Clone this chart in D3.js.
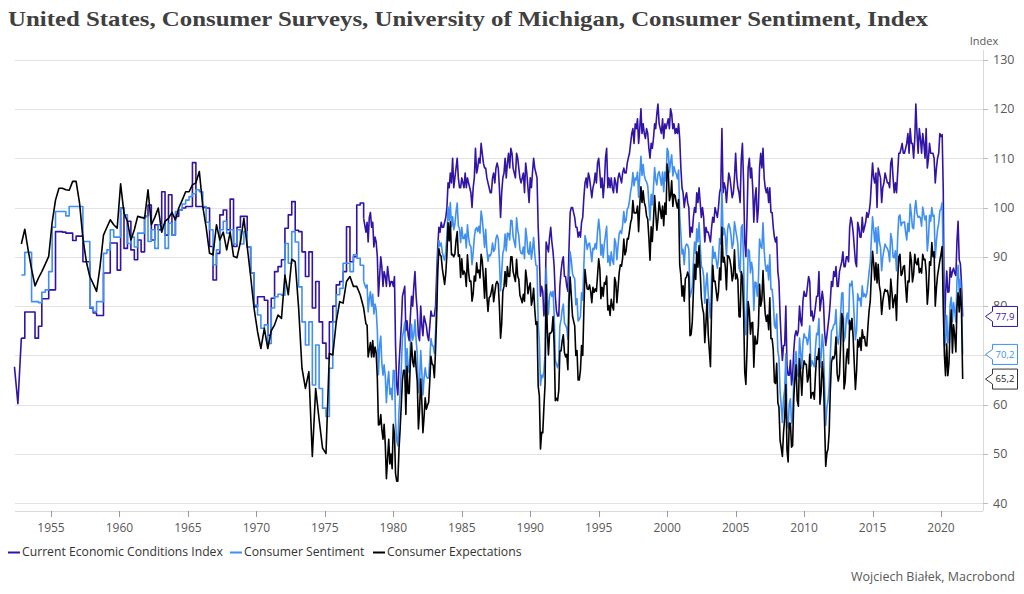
<!DOCTYPE html>
<html><head><meta charset="utf-8">
<script src="https://cdnjs.cloudflare.com/ajax/libs/d3/7.8.5/d3.min.js"></script>
<style>body{margin:0;background:#fff;} svg{display:block;}</style>
</head><body>
<svg id="chart" width="1024" height="594"></svg>
<script>
// ---------- DATA ----------
const titleText = "United States, Consumer Surveys, University of Michigan, Consumer Sentiment, Index";
const unitText = "Index";
const sourceText = "Wojciech Białek, Macrobond";
const seriesNames = ["Current Economic Conditions Index", "Consumer Sentiment", "Consumer Expectations"];
const yTickValues = [40, 50, 60, 70, 80, 90, 100, 110, 120, 130];
const xTickYears = [1955, 1960, 1965, 1970, 1975, 1980, 1985, 1990, 1995, 2000, 2005, 2010, 2015, 2020];

// quarterly survey readings, May 1952 .. Nov 1977 (every 3 months)
const earlyStart = [1952, 4];
const iccEarly = [67.7, 60.2, 73.5,
 78.8, 78.8, 78.8, 73.5,  75.9, 81.5, 81.5, 83.3,  83.3, 95.1, 95.1, 95.0,  94.8, 94.8, 93.3, 94.2,
 94.2, 89.0, 89.0, 79.6,  78.6, 78.1, 78.1, 86.7,  86.7, 92.8, 92.8, 87.3,  99.9, 91.7, 97.2, 91.4,
 89.4, 93.4, 91.0, 98.2,  100.5, 93.4, 96.5, 95.5,  103.2, 94.4, 102.6, 94.4,  98.2, 99.5, 99.9, 100.2,
 100.2, 109.1, 100.2, 100.2,  100.0, 99.9, 92.1, 85.3,  90.7, 98.5, 99.5, 95.5,  101.7, 92.1, 96.0, 98.2,
 98.2, 92.0, 86.7, 79.9,  81.9, 81.9, 81.2, 74.1,  81.6, 87.0, 88.0, 89.4,  95.8, 98.5, 101.2, 95.4,
 95.1, 91.0, 86.0, 91.0,  79.6, 85.0, 76.8, 72.5,  69.4, 76.8, 80.0, 84.3,  85.0, 87.0, 96.1, 89.0,
 90.0, 100.5, 100.9, 97.8];
const icsEarly = [null, null, 86.3,
 90.9, 90.9, 80.9, 80.9,  80.7, 82.8, 83.3, 87.0,  96.0, 99.2, 99.2, 99.2,  98.3, 100.2, 100.2, 100.2,
 100.2, 93.1, 93.1, 79.8,  78.9, 80.9, 80.9, 90.7,  91.4, 95.5, 94.0, 94.0,  99.9, 98.5, 92.7, 94.0,
 92.0, 94.8, 94.8, 98.2,  93.1, 95.5, 91.7, 96.5,  96.5, 91.7, 96.8, 94.4,  99.2, 99.5, 100.7, 101.5,
 102.2, 102.8, 103.6, 103.2,  100.2, 97.0, 95.5, 88.4,  91.4, 95.5, 97.2, 94.8,  95.5, 92.6, 95.5, 92.6,
 95.1, 92.0, 86.7, 80.2,  78.2, 75.5, 76.2, 72.4,  79.6, 81.9, 82.4, 82.2,  92.7, 88.7, 95.1, 93.0,
 83.9, 76.8, 72.1, 76.8,  64.0, 72.1, 63.3, 59.3,  57.6, 67.4, 76.8, 82.3,  83.6, 88.7, 88.7, 87.0,
 90.4, 89.7, 88.3, 85.0];
const iceEarly = [null, null, 92.6,
 95.6, 91.4, 87.5, 84.1,  85.7, 87.0, 88.5, 90.1,  97.0, 101.5, 103.9, 103.9,  103.6, 103.5, 105.3, 105.3,
 100.9, 93.8, 89.0, 86.0,  84.5, 83.0, 88.0, 94.4,  96.0, 97.5, 96.5, 95.8,  104.8, 98.8, 97.2, 93.4,
 95.5, 98.2, 98.0, 97.8,  103.6, 96.5, 98.0, 99.9,  95.0, 97.2, 97.8, 99.0,  97.5, 99.9, 101.5, 103.2,
 103.2, 104.6, 105.0, 107.3,  100.2, 96.0, 90.7, 90.4,  96.5, 93.4, 95.0, 91.4,  95.0, 90.1, 89.8, 93.0,
 97.8, 92.1, 86.0, 79.5,  74.8, 71.4, 75.5, 71.4,  75.0, 76.2, 78.2, 77.5,  86.3, 82.3, 89.5, 89.0,
 79.6, 67.4, 63.3, 66.7,  49.5, 63.3, 57.0, 51.2,  50.1, 70.4, 70.1, 76.8,  80.9, 80.6, 85.0, 86.0,
 84.0, 84.0, 82.3, 79.6];

// monthly readings, Jan 1978 .. Aug 2021
const lateStart = [1978, 0];
const iccLate = [
 95,97,93,98,99,96,97,92,94,93,90,82,
 86,90,88,84,87,86,84,88,86,84,85,85,
 84,86,72,64,62,68,72,76,82,83,84,75,
 77,74,73,78,82,80,84,87,82,79,74,73,
 80,76,74,78,77,76,74,73,76,79,78,78,
 78,80,86,92,96,95,97,96,96,97,98,100,
 105,104,107,105,110,104,106,108,110,106,104,104,
 106,105,104,107,104,106,105,104,103,100,104,106,
 112,107,108,110,109,113,111,109,108,108,106,105,
 104,103,103,106,107,105,108,109,108,104,98,103,
 106,107,110,106,109,111,108,112,111,108,107,106,
 111,110,108,106,105,106,107,103,109,107,104,101,
 106,104,107,110,108,107,106,96,90,82,84,83,
 78,80,93,92,91,94,96,93,91,88,82,79,
 78,78,84,87,89,90,86,86,84,83,92,99,
 100,100,99,98,96,96,94,95,94,97,98,102,
 105,106,104,107,106,104,102,104,105,107,105,109,
 110,107,104,106,102,105,110,112,104,106,104,106,
 104,103,106,105,103,106,107,106,105,107,108,107,
 107,109,110,111,113,115,116,113,117,116,118,113,
 116,120,115,117,115,114,116,115,112,110,113,112,
 114,117,116,119,121,117,116,115,118,114,117,116,
 117,118,116,120,119,116,117,115,116,115,117,114,
 108,104,103,100,102,103,101,100,94,96,95,98,
 100,99,103,101,104,101,98,100,98,93,96,95,
 95,94,93,96,98,97,100,99,98,100,103,104,
 116,103,105,104,101,104,107,106,104,102,103,106,
 111,106,104,103,101,110,113,105,93,90,98,108,
 110,106,108,104,97,102,104,97,100,108,111,108,
 112,106,104,103,104,101,104,99,99,96,94,93,
 94,87,85,78,73,69,72,72,80,68,66,66,
 69,64,66,71,74,75,74,75,80,77,76,81,
 83,82,82,84,86,85,78,79,77,78,80,82,
 82,87,79,81,83,81,75,72,74,76,78,81,
 85,84,87,86,88,84,84,87,88,89,91,88,
 88,90,90,89,96,98,97,95,92,89,88,97,
 96,94,94,98,95,96,97,99,98,99,101,105,
 109,106,105,107,100,108,107,106,101,104,105,107,
 106,105,105,104,109,110,106,103,105,103,107,111,
 111,112,113,111,111,112,113,115,111,116,113,113,
 110,114,121,115,111,116,114,111,115,113,110,116,
 108,110,113,111,111,111,110,105,108,110,111,115,
 114.4,114.8,103.7,74.3,82.3,87.1,82.8,82.9,87.8,85.9,87.0,87.7,
 86.7,86.2,93.0,97.2,89.4,88.6,84.5,77.9];
const icsLate = [
 83.7,84.3,78.8,81.6,82.9,80.0,82.4,78.4,80.4,79.3,75.0,66.1,
 72.1,73.9,68.4,66.0,68.1,65.8,60.4,64.5,66.7,62.1,63.3,61.0,
 67.0,66.9,56.5,52.7,51.7,58.7,62.3,67.3,73.7,75.0,76.7,64.5,
 71.4,66.9,66.5,72.4,76.3,73.1,74.1,77.2,73.1,70.3,62.5,64.3,
 71.0,66.5,62.0,65.5,67.5,65.7,65.4,65.4,69.3,73.4,72.1,71.9,
 70.4,74.6,80.8,89.1,93.3,92.2,92.8,90.9,89.9,89.3,91.1,94.2,
 100.1,97.4,101.0,96.1,98.1,95.5,96.6,99.1,100.9,96.3,95.7,92.9,
 96.0,93.7,93.7,94.6,91.8,96.5,94.0,92.4,92.1,88.4,90.9,93.9,
 95.6,95.9,95.1,96.2,94.8,99.3,97.7,94.9,91.9,95.6,91.4,89.1,
 90.4,90.2,90.8,92.8,91.1,91.5,93.7,94.4,93.6,89.3,83.1,86.8,
 90.8,91.6,94.6,91.2,94.8,94.7,93.4,97.4,97.3,94.1,93.0,91.9,
 97.9,95.4,94.3,91.5,90.7,90.6,92.0,89.6,95.8,93.9,90.9,90.5,
 93.0,89.5,91.3,93.9,90.6,88.3,88.2,76.4,72.8,63.9,66.0,65.5,
 66.8,70.4,87.7,81.8,78.3,82.1,82.9,82.0,83.0,78.3,69.1,68.2,
 67.5,68.8,76.0,77.2,79.2,80.4,76.6,76.1,75.6,73.3,85.3,91.0,
 89.3,86.6,85.9,85.6,80.3,81.5,77.0,77.3,77.9,82.7,81.2,88.2,
 94.3,93.2,91.5,92.6,92.8,91.2,89.0,91.7,91.5,92.7,91.6,95.1,
 97.6,95.1,90.3,92.5,89.8,92.7,94.4,96.2,88.9,90.2,88.2,91.0,
 89.3,88.5,93.7,92.7,89.4,92.4,94.7,95.3,94.7,96.5,99.2,96.9,
 97.4,99.7,100.0,101.4,103.2,104.5,107.1,104.4,106.0,105.6,107.2,102.1,
 106.6,110.4,106.5,108.7,106.5,105.6,105.2,104.4,100.9,97.4,102.7,100.5,
 103.9,108.1,105.7,104.6,106.8,107.3,106.0,104.5,107.2,103.2,107.2,105.4,
 112.0,111.3,107.1,109.2,110.7,106.4,108.3,107.3,106.8,105.8,107.6,98.4,
 94.7,90.6,91.5,88.4,92.0,92.6,92.4,91.5,81.8,82.7,83.9,88.8,
 93.0,90.7,95.7,93.0,96.9,92.4,88.1,87.6,86.1,80.6,84.2,86.7,
 82.4,79.9,77.6,86.0,92.1,89.7,90.9,89.3,87.7,89.6,93.7,92.6,
 103.8,94.4,95.8,94.2,90.2,95.6,96.7,95.9,94.2,91.7,92.8,97.1,
 95.5,94.1,92.6,87.7,86.9,96.0,96.5,89.1,76.9,74.2,81.6,91.5,
 91.2,86.7,88.9,87.4,79.1,84.9,84.7,82.0,85.4,93.6,92.1,91.7,
 96.9,91.3,88.4,87.1,88.3,85.3,90.4,83.4,83.4,80.9,76.1,75.5,
 78.4,70.8,69.5,62.6,59.8,56.4,61.2,63.0,70.3,57.6,55.3,60.1,
 61.2,56.3,57.3,65.1,68.7,70.8,66.0,65.7,73.5,70.6,67.4,72.5,
 74.4,73.6,73.6,72.2,73.6,76.0,67.8,68.9,68.2,67.7,71.6,74.5,
 74.2,77.5,67.5,69.8,74.3,71.5,63.7,55.8,59.5,60.8,63.7,69.9,
 75.0,75.3,76.2,76.4,79.3,73.2,72.3,74.3,78.3,82.6,82.7,72.9,
 73.8,77.6,78.6,76.4,84.5,84.1,85.1,82.1,77.5,73.2,75.1,82.5,
 81.2,81.6,80.0,84.1,81.9,82.5,81.8,82.5,84.6,86.9,88.8,93.6,
 98.1,95.4,93.0,95.9,90.7,96.1,93.1,91.9,87.2,90.0,91.3,92.6,
 92.0,91.7,91.0,89.0,94.7,93.5,90.0,89.8,91.2,87.2,93.8,98.2,
 98.5,96.3,96.9,97.0,97.1,95.0,93.4,96.8,95.1,100.7,98.5,95.9,
 95.7,99.7,101.4,98.8,98.0,98.2,97.9,96.2,100.1,98.6,97.5,98.3,
 91.2,93.8,98.4,97.2,100.0,98.2,98.4,89.8,93.2,95.5,96.8,99.3,
 99.8,101.0,89.1,71.8,72.3,78.1,72.5,74.1,80.4,81.8,76.9,80.7,
 79.0,76.8,84.9,88.3,82.9,85.5,81.2,70.2];
const iceLate = [
 76.4,76.1,69.7,71.1,72.6,69.7,73.0,69.7,71.7,70.5,65.4,55.9,
 56,58,55,53,56,52,45,49,53,48,50,47,
 56,54,46,44.5,44.5,51,55,60,65,67,67,58,
 67.8,62.3,62.3,68.8,72.6,68.7,67.7,70.9,67.4,64.7,55.1,58.7,
 65.2,60.4,54.3,57.5,61.4,59.1,59.9,60.5,65.0,69.8,68.3,68.0,
 65.5,71.1,77.5,87.2,91.6,90.4,90.1,87.6,86.0,84.4,86.7,90.5,
 96.9,93.2,97.1,90.4,90.5,90.0,90.6,93.4,95.1,90.1,90.4,85.8,
 89.6,86.4,87.1,86.6,84.0,90.4,86.9,85.0,85.1,81.0,82.5,86.1,
 85.1,88.8,86.8,87.3,85.7,90.5,89.2,85.8,81.6,87.6,82.0,78.9,
 81.7,82.0,83.0,84.3,80.9,82.8,84.5,85.0,84.4,79.9,73.5,76.4,
 83,84,87,84,88,86,86,90,90,87,86,85,
 89.5,86.0,85.5,82.2,81.5,80.7,82.4,81.0,87.3,85.5,82.5,83.8,
 84.7,80.2,81.2,83.6,79.4,76.3,76.8,63.8,61.8,51.0,54.4,54.3,
 59.6,64.2,84.3,75.3,70.1,74.5,74.5,74.9,77.9,72.1,60.8,61.3,
 60.8,62.9,70.9,70.9,72.9,74.2,70.6,69.7,70.2,67.1,81.0,85.9,
 82,78,77,76,70,71,65,65,67,72,70,79,
 87.4,85.0,83.5,83.4,84.3,83.0,80.7,83.8,82.8,83.5,83.0,86.2,
 89.6,87.5,81.5,83.8,82.0,84.8,84.4,86.1,79.2,80.1,78.1,81.4,
 79.9,79.2,85.8,84.8,80.7,83.7,86.8,88.4,88.1,89.8,93.6,90.4,
 91.2,93.7,93.6,95.2,96.9,97.8,101.4,98.9,98.9,98.9,100.3,95.1,
 100.6,104.2,101.0,103.4,101.0,100.2,98.3,97.6,93.8,89.3,96.1,93.1,
 97.4,102.4,99.1,95.4,97.7,101.1,99.6,97.8,100.3,96.3,100.9,98.6,
 108.8,107.0,101.4,102.3,105.4,100.2,102.7,102.4,100.9,99.9,101.6,88.4,
 86.2,82.0,84.1,81.0,85.6,85.9,86.9,86.0,74.0,74.2,76.8,82.9,
 88.5,85.4,91.0,87.9,92.3,86.9,81.7,79.6,78.5,72.6,76.6,81.4,
 74.3,70.8,67.7,79.6,88.3,85.0,85.1,83.1,81.1,82.9,87.7,85.3,
 96.0,88.9,89.9,87.9,83.3,90.2,90.1,89.4,87.9,85.1,86.3,91.4,
 85.5,86.5,85.3,77.9,77.8,87.0,85.9,78.9,66.6,64.1,71.1,80.9,
 79.1,74.3,76.6,76.7,67.6,73.9,72.3,72.4,76.0,84.4,80.0,81.2,
 87.2,81.9,78.4,76.9,78.2,75.2,81.7,73.4,73.4,71.2,64.6,64.3,
 68.4,60.4,59.5,52.7,51.3,49.5,54.3,57.2,64.1,50.9,48.4,56.3,
 56.2,51.4,51.7,61.3,65.3,68.1,60.9,59.7,69.3,66.5,61.9,67.0,
 68.9,68.2,68.2,64.6,65.6,70.2,61.3,62.4,62.5,61.1,66.2,69.7,
 69.2,71.4,60.1,62.6,68.7,65.4,56.4,47.5,50.2,51.0,54.5,62.8,
 68.6,69.7,69.3,70.2,73.7,66.3,64.8,66.1,72.1,78.5,77.4,63.2,
 64.7,69.6,71.3,68.3,77.1,75.2,77.5,73.8,68.2,63.1,66.8,73.2,
 71.7,73.6,71.0,75.2,73.5,73.8,72.0,71.9,76.0,79.1,81.0,86.3,
 91.1,88.6,85.3,88.8,84.7,88.5,84.2,82.8,78.3,81.0,82.5,83.4,
 83.0,83.2,82.0,79.4,85.5,82.9,79.7,81.3,82.3,77.1,85.3,90.0,
 90.5,86.2,86.6,88.0,88.2,84.1,80.8,85.1,84.9,90.9,89.2,84.9,
 86.5,90.5,88.8,88.4,89.7,86.8,87.6,86.7,90.5,89.4,89.5,86.9,
 80.4,83.4,89.0,88.3,92.9,90.0,91.0,80.0,83.7,86.2,87.7,89.2,
 90.5,92.1,79.7,70.1,65.9,72.3,65.9,68.5,75.6,79.2,70.5,76.2,
 74.0,70.7,79.7,82.7,78.8,83.5,79.0,65.2];

// ---------- STYLE ----------
const seriesColors = ["#3113a6", "#3f90f2", "#000000"];
const textColor = "#595959";
const sansFont = "'Open Sans', 'Noto Sans', sans-serif";
const plotLeft = 15, plotRight = 983, plotBottom = 511;

const svg = d3.select("#chart");

const x = d3.scaleTime()
  .domain([new Date(1955, 0, 1), new Date(2020, 0, 1)])
  .range([51, 941]);
const y = d3.scaleLinear().domain([40, 130]).range([503.3, 59.6]);

const earlyDates = iccEarly.map((_, i) => new Date(earlyStart[0], earlyStart[1] + 3 * i, 1));
const lateDates = iccLate.map((_, i) => new Date(lateStart[0], lateStart[1] + i, 1));

const series = [
  { name: seriesNames[0], early: iccEarly, late: iccLate, step: true },
  { name: seriesNames[1], early: icsEarly, late: icsLate, step: true },
  { name: seriesNames[2], early: iceEarly, late: iceLate, step: false }
];

// gridlines
svg.append("g").selectAll("line").data(yTickValues).join("line")
  .attr("x1", plotLeft).attr("x2", plotRight)
  .attr("y1", d => Math.round(y(d)) + 0.5).attr("y2", d => Math.round(y(d)) + 0.5)
  .attr("stroke", "#e3e3e3").attr("stroke-width", 1);

// right axis line + ticks + labels
svg.append("line").attr("x1", plotRight + 0.5).attr("x2", plotRight + 0.5)
  .attr("y1", 50).attr("y2", plotBottom).attr("stroke", "#dadada");
svg.append("g").selectAll("line").data(yTickValues).join("line")
  .attr("x1", plotRight).attr("x2", plotRight + 5)
  .attr("y1", d => Math.round(y(d)) + 0.5).attr("y2", d => Math.round(y(d)) + 0.5)
  .attr("stroke", "#bdbdbd");
svg.append("g").selectAll("text").data(yTickValues).join("text")
  .attr("x", 993).attr("y", d => y(d)).attr("dy", "0.35em")
  .attr("font-family", sansFont).attr("font-size", 12.5)
  .attr("fill", textColor).text(d => d);
svg.append("text").attr("x", 984).attr("y", 45).attr("text-anchor", "middle")
  .attr("font-family", sansFont).attr("font-size", 11)
  .attr("fill", textColor).text(unitText);

// x axis
svg.append("line").attr("x1", plotLeft).attr("x2", plotRight)
  .attr("y1", plotBottom + 0.5).attr("y2", plotBottom + 0.5).attr("stroke", "#dadada");
const xTickDates = xTickYears.map(yr => new Date(yr, 0, 1));
svg.append("g").selectAll("line").data(xTickDates).join("line")
  .attr("x1", d => Math.round(x(d)) + 0.5).attr("x2", d => Math.round(x(d)) + 0.5)
  .attr("y1", plotBottom).attr("y2", plotBottom + 6).attr("stroke", "#9a9a9a");
svg.append("g").selectAll("text").data(xTickDates).join("text")
  .attr("x", d => x(d)).attr("y", 532).attr("text-anchor", "middle")
  .attr("font-family", sansFont).attr("font-size", 12)
  .attr("fill", textColor).text(d => d.getFullYear());

// lines
const lineLinear = d3.line().defined(d => d.v != null).x(d => x(d.date)).y(d => y(d.v));
const lineStep = d3.line().defined(d => d.v != null).x(d => x(d.date)).y(d => y(d.v)).curve(d3.curveStepAfter);
const gLines = svg.append("g");
series.forEach((s, i) => {
  const early = s.early.map((v, k) => ({ date: earlyDates[k], v }));
  const late = s.late.map((v, k) => ({ date: lateDates[k], v }));
  const style = p => p.attr("fill", "none").attr("stroke", seriesColors[i])
    .attr("stroke-width", 1.6).attr("stroke-linejoin", "round");
  if (s.step) {
    gLines.append("path").attr("d", lineLinear(early.slice(0, 3))).call(style);
    gLines.append("path").attr("d", lineStep(early.slice(2))).call(style);
    gLines.append("path").attr("d", lineLinear([early[early.length - 1], ...late])).call(style);
  } else {
    gLines.append("path").attr("d", lineLinear([...early, ...late])).call(style);
  }
});

// end-value labels
const fmt = v => v.toFixed(1).replace(".", ",");
series.forEach((s, i) => {
  const v = s.late[s.late.length - 1];
  const cy = y(v);
  const tip = 985.5, bx = 992.5, bw = 25, bh = 20;
  const p = `M${tip},${cy} L${bx},${cy - 5} L${bx},${cy - bh / 2} L${bx + bw},${cy - bh / 2} L${bx + bw},${cy + bh / 2} L${bx},${cy + bh / 2} L${bx},${cy + 5} Z`;
  svg.append("path").attr("d", p).attr("fill", "#fff")
    .attr("stroke", i === 2 ? "#333" : seriesColors[i]).attr("stroke-width", 1);
  svg.append("text").attr("x", bx + bw / 2).attr("y", cy).attr("dy", "0.35em")
    .attr("text-anchor", "middle").attr("font-family", sansFont)
    .attr("font-size", 9.5).attr("fill", i === 2 ? "#222" : seriesColors[i]).text(fmt(v));
});

// legend
const legendX = [8, 230, 373];
const gLeg = svg.append("g");
series.forEach((s, i) => {
  gLeg.append("line").attr("x1", legendX[i]).attr("x2", legendX[i] + 12)
    .attr("y1", 552.5).attr("y2", 552.5).attr("stroke", seriesColors[i]).attr("stroke-width", 2);
  gLeg.append("text").attr("x", legendX[i] + 14).attr("y", 552).attr("dy", "0.35em")
    .attr("font-family", sansFont).attr("font-size", 12.2)
    .attr("fill", "#333").text(s.name);
});

// title
svg.append("text").attr("x", 8).attr("y", 26)
  .attr("font-family", "'Liberation Serif', 'DejaVu Serif', serif").attr("font-weight", "bold")
  .attr("font-size", 21).attr("fill", "#404040")
  .attr("textLength", 920).attr("lengthAdjust", "spacingAndGlyphs")
  .text(titleText);

// source
svg.append("text").attr("x", 1015).attr("y", 581).attr("text-anchor", "end")
  .attr("font-family", sansFont).attr("font-size", 12.5)
  .attr("fill", textColor).text(sourceText);
</script>
</body></html>
